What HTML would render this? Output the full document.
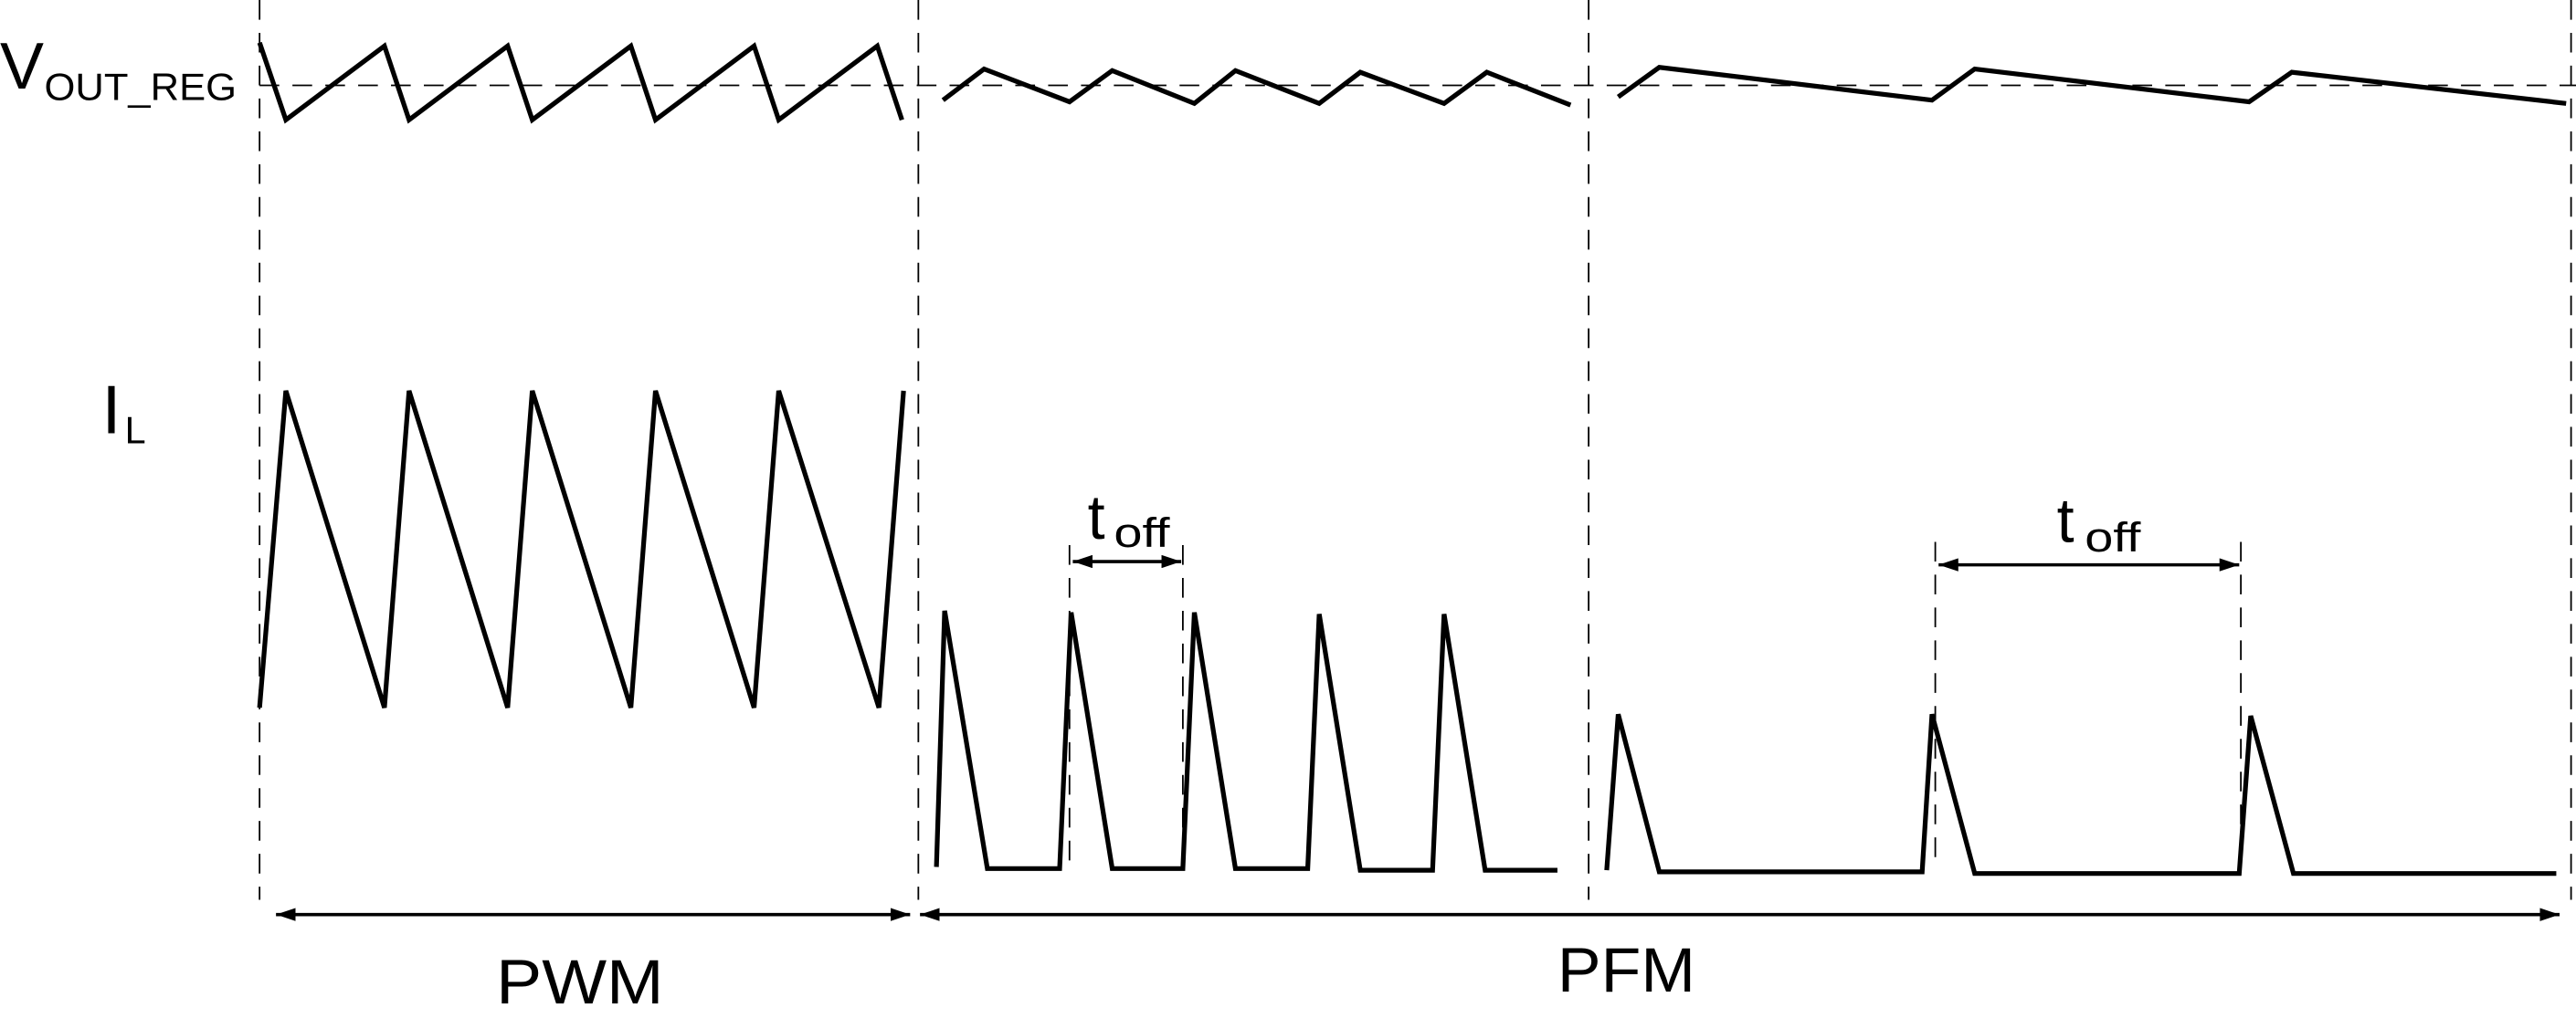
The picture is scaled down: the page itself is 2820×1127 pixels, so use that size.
<!DOCTYPE html>
<html><head><meta charset="utf-8"><style>
html,body{margin:0;padding:0;background:#fff;}
svg{display:block;}
text{font-family:"Liberation Sans",sans-serif;fill:#000;}
</style></head><body>
<svg width="2820" height="1127" viewBox="0 0 1568 626.7" preserveAspectRatio="none" xmlns="http://www.w3.org/2000/svg">
<defs>
<marker id="a" markerWidth="12" markerHeight="8" refX="12" refY="4" orient="auto-start-reverse" markerUnits="userSpaceOnUse">
<path d="M0,0 L12,4 L0,8 Z" fill="#000"/></marker>
</defs>
<g stroke="#000" stroke-width="1" stroke-dasharray="12,8" fill="none">
<line x1="158" y1="0" x2="158" y2="548"/>
<line x1="559" y1="0" x2="559" y2="548"/>
<line x1="967" y1="0" x2="967" y2="548"/>
<line x1="1565" y1="0" x2="1565" y2="548"/>
<line x1="158" y1="52" x2="1568" y2="52"/>
<line x1="651" y1="332" x2="651" y2="528"/>
<line x1="720" y1="332" x2="720" y2="528"/>
<line x1="1178" y1="330" x2="1178" y2="530"/>
<line x1="1364" y1="330" x2="1364" y2="530"/>
</g>
<g stroke="#000" stroke-width="2.9" fill="none" stroke-linejoin="miter">
<polyline points="158,26 174,73 234,28 249,73 309,28 324,73 384,28 399,73 459,28 474,73 534,28 549,73"/>
<polyline points="574,61 599,42 651,62 677,43 727,63 752,43 803,63 828,44 879,63 905,44 956,64"/>
<polyline points="985,59 1010,41 1176,61 1202,42 1369,62 1395,44 1562,63"/>
<polyline points="158,431 174,238 234,431 249,238 309,431 324,238 384,431 399,238 459,431 474,238 535,431 550,238"/>
<polyline points="570,528 575,372 601,529 645,529 652,373 677,529 720,529 727,373 752,529 796,529 803,374 828,530 872,530 879,374 904,530 948,530"/>
<polyline points="978,530 985,435 1010,531 1170,531 1176,435 1202,532 1363,532 1370,436 1396,532 1556,532"/>
</g>
<g stroke="#000" stroke-width="2" fill="none">
<line x1="653" y1="342" x2="719" y2="342" marker-start="url(#a)" marker-end="url(#a)"/>
<line x1="1180" y1="344" x2="1363" y2="344" marker-start="url(#a)" marker-end="url(#a)"/>
<line x1="168" y1="557" x2="554" y2="557" marker-start="url(#a)" marker-end="url(#a)"/>
<line x1="560" y1="557" x2="1558" y2="557" marker-start="url(#a)" marker-end="url(#a)"/>
</g>
<text x="0" y="54" font-size="40">V</text>
<text x="27" y="61" font-size="23" textLength="117" lengthAdjust="spacingAndGlyphs">OUT_REG</text>
<text x="62" y="264" font-size="42">I</text>
<text x="76" y="270" font-size="23">L</text>
<text x="662" y="328" font-size="38">t</text>
<text x="678" y="333" font-size="25" textLength="34" lengthAdjust="spacingAndGlyphs">off</text>
<text x="1252" y="330" font-size="38">t</text>
<text x="1269" y="336" font-size="25" textLength="34" lengthAdjust="spacingAndGlyphs">off</text>
<text x="302" y="611" font-size="38" textLength="102" lengthAdjust="spacingAndGlyphs">PWM</text>
<text x="948" y="604" font-size="38" textLength="84" lengthAdjust="spacingAndGlyphs">PFM</text>
</svg>
</body></html>
